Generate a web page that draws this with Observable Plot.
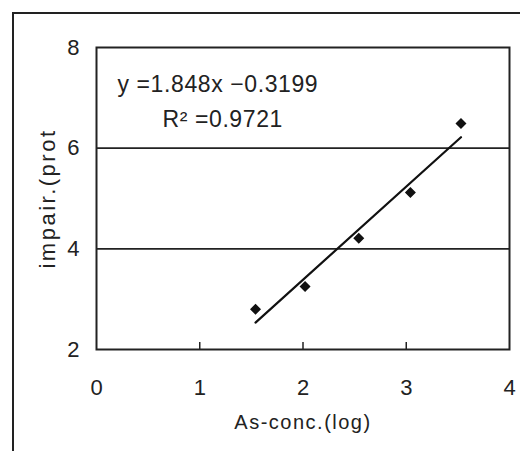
<!DOCTYPE html>
<html>
<head>
<meta charset="utf-8">
<script src="https://cdn.jsdelivr.net/npm/d3@7"></script>
<script src="https://cdn.jsdelivr.net/npm/@observablehq/plot@0.6"></script>
<style>
  html, body { margin: 0; padding: 0; background: #fff; overflow: hidden; }
  #wrap { position: relative; width: 520px; height: 451px; }
  #border { position: absolute; left: 12px; top: 12px; width: 600px; height: 600px;
            border-left: 2px solid #222; border-top: 2px solid #222; pointer-events: none; }
  #chart { position: absolute; left: 0; top: 0; }
</style>
</head>
<body>
<div id="wrap"><div id="chart"></div><div id="border"></div></div>
<script>
// Data
const asConc = [1.54, 2.02, 2.54, 3.04, 3.53];      // x: As-conc. (log)
const impair = [2.80, 3.25, 4.21, 5.12, 6.49];      // y: impair. (prot
const xTicks = [0, 1, 2, 3, 4];
const yTicks = [2, 4, 6, 8];
const gridY = [4, 6];
const eqLine1 = "y =1.848x \u22120.3199";
const eqLine2 = "R\u00B2 =0.9721";
const xLabel = "As-conc.(log)";
const yLabel = "impair.(prot";

const data = asConc.map((x, i) => ({x, y: impair[i]}));
const font = "Liberation Sans, Arial, sans-serif";

const chart = Plot.plot({
  width: 520,
  height: 451,
  marginLeft: 96,
  marginRight: 11,
  marginTop: 47,
  marginBottom: 102,
  style: {fontFamily: font, background: "transparent", color: "#222"},
  x: {domain: [0, 4]},
  y: {domain: [2, 8]},
  marks: [
    Plot.ruleY(gridY, {stroke: "#222", strokeWidth: 1.6}),
    Plot.frame({stroke: "#222", strokeWidth: 2}),
    Plot.tickX(xTicks.slice(1, -1), {x: d => d, stroke: "#222", strokeWidth: 1.5, insetTop: 295}),
    Plot.axisX(xTicks, {tickSize: 0, tickPadding: 30, fontSize: 22, tickFormat: "d", label: null}),
    Plot.axisY(yTicks, {tickSize: 0, tickPadding: 17, fontSize: 22, tickFormat: "d", label: null}),
    Plot.linearRegressionY(data, {x: "x", y: "y", stroke: "#111", strokeWidth: 2.2, ci: 0}),
    Plot.dot(data, {x: "x", y: "y", symbol: "diamond2", r: 4, fill: "#111", stroke: "#111"}),
    Plot.text([xLabel], {frameAnchor: "bottom", textAnchor: "middle", lineAnchor: "middle", dy: 73, fontSize: 20, fill: "#222"}),
    Plot.text([yLabel], {frameAnchor: "left", textAnchor: "middle", lineAnchor: "middle", rotate: -90, dx: -49, fontSize: 22, fill: "#222"}),
    Plot.text([eqLine1], {frameAnchor: "top-left", textAnchor: "start", lineAnchor: "top", dx: 21, dy: 28, fontSize: 23, fill: "#222"}),
    Plot.text([eqLine2], {frameAnchor: "top-left", textAnchor: "start", lineAnchor: "top", dx: 66, dy: 63, fontSize: 23, fill: "#222"})
  ]
});
const spacing = {[xLabel]: "1.5px", [yLabel]: "2.5px", [eqLine1]: "0.6px", [eqLine2]: "0.6px"};
chart.querySelectorAll("text").forEach(el => {
  const s = spacing[el.textContent];
  if (s) el.setAttribute("letter-spacing", s);
});
document.getElementById("chart").append(chart);
</script>
</body>
</html>
